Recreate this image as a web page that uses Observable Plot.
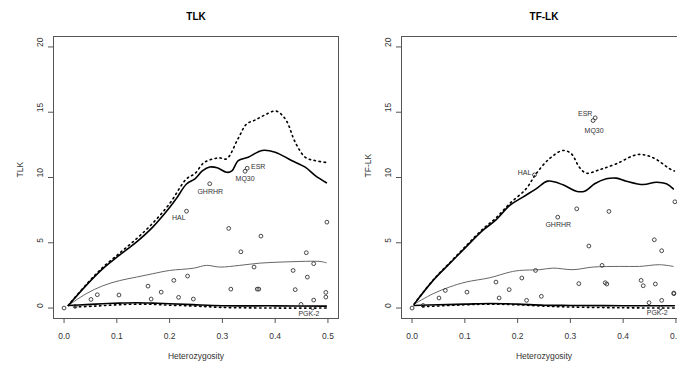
<!DOCTYPE html>
<html><head><meta charset="utf-8">
<script src="https://cdn.jsdelivr.net/npm/d3@7"></script>
<script src="https://cdn.jsdelivr.net/npm/@observablehq/plot@0.6"></script>
<style>
body{margin:0;background:#fff}
#wrap{width:677px;height:365px;overflow:hidden;display:flex}
#wrap svg{flex:none}
</style>
</head><body><div id="wrap"></div><script>
// ---- data ----
const xTicks = [0, 0.1, 0.2, 0.3, 0.4, 0.5];
const yTicks = [0, 5, 10, 15, 20];
const panelTitles = ["TLK", "TF-LK"];

const markerX    = [0.000,0.021,0.051,0.063,0.104,0.159,0.165,0.184,0.208,0.217,0.232,0.234,0.245,0.276,0.312,0.316,0.335,0.347,0.343,0.360,0.366,0.369,0.373,0.434,0.438,0.449,0.459,0.461,0.473,0.473,0.471,0.498,0.496,0.496];
const markerTLK  = [0.00,0.13,0.66,1.02,1.00,1.68,0.69,1.22,2.12,0.82,7.42,2.45,0.69,9.52,6.10,1.45,4.31,10.71,10.48,3.14,1.45,1.45,5.51,2.88,1.41,0.28,4.24,2.37,3.40,0.61,0.02,6.58,1.20,0.84];
const markerTFLK = [0.00,0.20,0.77,1.35,1.22,1.99,0.77,1.41,2.30,0.59,10.20,2.88,0.90,6.96,7.60,1.87,4.75,14.57,14.36,3.27,1.94,1.84,7.40,2.12,1.71,0.41,5.23,1.84,4.39,0.59,0.02,8.14,1.15,1.10];
const markerName = ["","","","","","","","","","","HAL","","","GHRHR","","","","ESR","MQ30","","","","","","","","","","","","PGK-2","","",""];

// TLK panel curves
const tlkMainX  = [0.008,0.042,0.073,0.105,0.137,0.168,0.200,0.213,0.232,0.248,0.262,0.276,0.290,0.308,0.318,0.330,0.349,0.375,0.400,0.431,0.457,0.476,0.497];
const tlkMainY  = [0.2,1.74,3.0,4.05,5.05,6.2,7.7,8.4,9.5,9.9,10.5,10.8,10.75,10.4,10.5,11.3,11.55,12.07,11.94,11.3,10.79,10.15,9.6];
const tlkUpX    = [0.008,0.042,0.073,0.105,0.137,0.168,0.200,0.232,0.248,0.264,0.280,0.295,0.308,0.330,0.346,0.362,0.378,0.400,0.410,0.422,0.438,0.457,0.475,0.497];
const tlkUpY    = [0.2,1.8,3.1,4.2,5.3,6.5,8.0,9.9,10.3,11.1,11.4,11.5,11.43,13.0,14.1,14.4,14.74,15.1,14.9,14.3,12.7,11.55,11.3,11.15];
const tlkMidX   = [0.008,0.042,0.073,0.105,0.137,0.168,0.200,0.245,0.270,0.295,0.333,0.371,0.409,0.447,0.485,0.497];
const tlkMidY   = [0.2,1.1,1.7,2.1,2.37,2.63,2.88,3.05,3.27,3.14,3.27,3.44,3.52,3.57,3.57,3.47];
const tlkLowX   = [0.008,0.042,0.073,0.105,0.137,0.168,0.200,0.244,0.300,0.400,0.497];
const tlkLowY   = [0.2,0.26,0.33,0.38,0.41,0.38,0.33,0.26,0.18,0.17,0.15];
const tlkLowDX  = [0.020,0.060,0.100,0.150,0.200,0.250,0.300,0.400,0.497];
const tlkLowDY  = [0.08,0.15,0.25,0.3,0.22,0.15,0.05,0.0,0.0];

// TF-LK panel curves
const tflkMainX = [0.004,0.040,0.071,0.102,0.134,0.159,0.185,0.210,0.235,0.257,0.286,0.311,0.327,0.346,0.368,0.387,0.406,0.438,0.463,0.482,0.495];
const tflkMainY = [0.3,2.12,3.4,4.67,5.95,6.75,7.86,8.5,9.13,9.72,9.44,8.95,8.95,9.52,9.9,9.95,9.72,9.46,9.64,9.52,9.13];
const tflkUpX   = [0.004,0.040,0.071,0.102,0.134,0.159,0.185,0.216,0.235,0.260,0.286,0.302,0.317,0.330,0.355,0.387,0.428,0.457,0.488,0.497];
const tflkUpY   = [0.3,2.15,3.45,4.75,6.05,6.9,8.0,9.13,10.28,11.43,12.07,11.81,10.79,10.33,10.59,11.05,11.76,11.51,10.67,10.5];
const tflkMidX  = [0.004,0.040,0.071,0.102,0.147,0.185,0.204,0.242,0.267,0.305,0.343,0.393,0.431,0.469,0.495];
const tflkMidY  = [0.3,1.1,1.61,1.99,2.32,2.75,2.88,2.94,3.06,2.94,3.14,3.19,3.19,3.32,3.19];
const tflkLowX  = [0.004,0.050,0.100,0.150,0.200,0.250,0.300,0.400,0.497];
const tflkLowY  = [0.2,0.25,0.3,0.35,0.3,0.22,0.2,0.18,0.18];
const tflkLowDX = [0.020,0.100,0.150,0.200,0.250,0.300,0.400,0.497];
const tflkLowDY = [0.1,0.25,0.3,0.25,0.15,0.08,0.02,0.0];

// ---- drawing ----
const FONT = "'Liberation Sans', Arial, Helvetica, sans-serif";
const pts = (xs, ys) => xs.map((x, i) => ({x, y: ys[i]}));

function panel(title, markerY, curves, labelOffsets) {
  const markers = markerX.map((x, i) => ({x, y: markerY[i], name: markerName[i]}));
  const thick = {x: "x", y: "y", curve: "catmull-rom", stroke: "#000", strokeWidth: 1.6};
  const dotted = {...thick, strokeDasharray: "1.4,3.6", strokeWidth: 1.6};
  const labelMarks = Object.entries(labelOffsets).map(([name, [dx, dy]]) =>
    Plot.text(markers.filter(d => d.name === name), {x: "x", y: "y", text: "name", dx, dy, fill: "#333", fontSize: 7, lineAnchor: "middle"}));
  return Plot.plot({
    width: 348, height: 365,
    marginLeft: 53, marginRight: 10, marginTop: 36, marginBottom: 47,
    x: {domain: [-0.02, 0.52]},
    y: {domain: [-0.8, 20.8]},
    style: {fontFamily: FONT, fontSize: "8.5px", background: "#fff", color: "#000", overflow: "visible"},
    marks: [
      Plot.frame({stroke: "#555"}),
      Plot.axisX({ticks: xTicks, tickFormat: d => d.toFixed(1), tickSize: 5, tickPadding: 9, label: null, stroke: "#555", fill: "#333"}),
      Plot.axisY({ticks: yTicks, tickFormat: () => "", tickSize: 5, label: null, stroke: "#555"}),
      Plot.text(yTicks, {y: d => d, text: d => String(d), frameAnchor: "left", dx: -13, rotate: -90, lineAnchor: "middle", fill: "#333"}),
      Plot.text([title], {text: d => d, frameAnchor: "top", dy: -20, fontWeight: "bold", fontSize: 10, lineAnchor: "middle", fill: "#000"}),
      Plot.text(["Heterozygosity"], {text: d => d, frameAnchor: "bottom", dy: 38, lineAnchor: "middle", fill: "#333"}),
      Plot.text([title], {text: d => d, frameAnchor: "left", dx: -33, rotate: -90, lineAnchor: "middle", fill: "#333"}),
      Plot.line(curves.mid, {x: "x", y: "y", curve: "catmull-rom", stroke: "#666", strokeWidth: 1}),
      Plot.line(curves.up, dotted),
      Plot.line(curves.main, thick),
      Plot.line(curves.lowD, dotted),
      Plot.line(curves.low, thick),
      Plot.dot(markers, {x: "x", y: "y", r: 1.9, stroke: "#333", strokeWidth: 0.9, fill: "none"}),
      ...labelMarks
    ]
  });
}

const wrap = document.getElementById("wrap");
wrap.appendChild(panel(panelTitles[0], markerTLK, {
  main: pts(tlkMainX, tlkMainY), up: pts(tlkUpX, tlkUpY), mid: pts(tlkMidX, tlkMidY),
  low: pts(tlkLowX, tlkLowY), lowD: pts(tlkLowDX, tlkLowDY)
}, {"HAL": [-7.7, 6.6], "GHRHR": [0.5, 7.7], "ESR": [11, -1.7], "MQ30": [0, 7.6], "PGK-2": [-3.7, 6]}));
wrap.appendChild(panel(panelTitles[1], markerTFLK, {
  main: pts(tflkMainX, tflkMainY), up: pts(tflkUpX, tflkUpY), mid: pts(tflkMidX, tflkMidY),
  low: pts(tflkLowX, tflkLowY), lowD: pts(tflkLowDX, tflkLowDY)
}, {"HAL": [-10, -2], "GHRHR": [0.5, 7.6], "ESR": [-10, -4], "MQ30": [1, 10], "PGK-2": [-3.4, 5]}));
</script></body></html>
